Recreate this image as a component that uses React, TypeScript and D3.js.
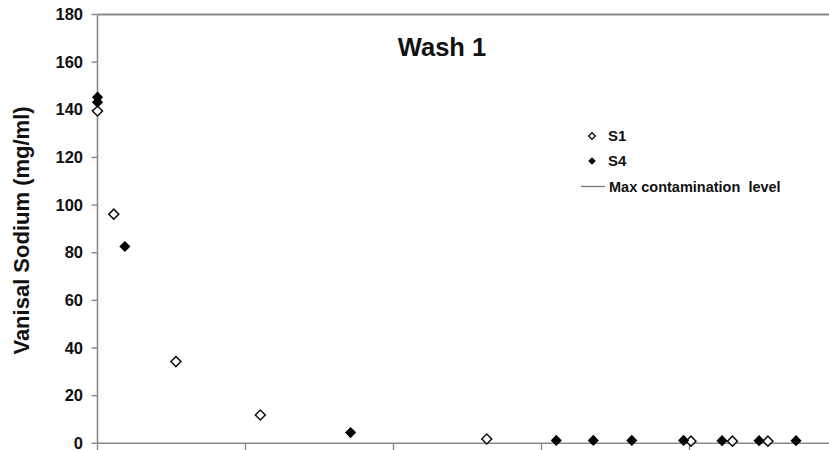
import React from "react";
import * as d3 from "d3";

const yTicks = [0, 20, 40, 60, 80, 100, 120, 140, 160, 180];
const xTicks = [0, 10, 20, 30, 40, 50];

const s1X = [0, 1.1, 5.3, 11.0, 26.3, 40.1, 42.9, 45.3];
const s1Y = [139.5, 96.2, 34.3, 11.9, 1.8, 0.9, 0.9, 0.9];

const s4X = [0, 0, 1.85, 17.1, 31.0, 33.5, 36.1, 39.6, 42.2, 44.7, 47.2];
const s4Y = [145.3, 143.2, 82.6, 4.5, 1.2, 1.2, 1.2, 1.2, 1.1, 1.1, 1.1];

const legendLabels = ["S1", "S4", "Max contamination  level"];

const FONT = "'Liberation Sans', Arial, Helvetica, sans-serif";
const AXIS = "#8a8a8a";

export default function App() {
  const x = d3.scaleLinear().domain([0, 50]).range([97.5, 837.5]);
  const y = d3.scaleLinear().domain([0, 180]).range([443.3, 14.5]);
  const diamondOpen = d3.symbol(d3.symbolSquare, 50)() as string;
  const diamondFilled = d3.symbol(d3.symbolSquare, 62)() as string;
  const legOpen = d3.symbol(d3.symbolSquare, 22)() as string;
  const legFilled = d3.symbol(d3.symbolSquare, 30)() as string;

  return (
    <svg
      width={829}
      height={450}
      style={{ position: "absolute", left: 0, top: 0, background: "#fff" }}
      fontFamily={FONT}
    >
      <rect width={829} height={450} fill="#fff" />
      {/* top border */}
      <line x1={x(0)} x2={829} y1={y(180)} y2={y(180)} stroke={AXIS} strokeWidth={2} />
      {/* y axis */}
      <line x1={x(0)} x2={x(0)} y1={y(180)} y2={y(0)} stroke={AXIS} strokeWidth={1.6} />
      {/* x axis */}
      <line x1={x(0)} x2={829} y1={y(0)} y2={y(0)} stroke={AXIS} strokeWidth={1.6} />
      {yTicks.map((t) => (
        <g key={"y" + t}>
          <line x1={x(0) - 6} x2={x(0)} y1={y(t)} y2={y(t)} stroke={AXIS} strokeWidth={1.4} />
          <text
            x={83}
            y={y(t) + 5.6}
            textAnchor="end"
            fontSize={16.5}
            fontWeight="bold"
            fill="#111"
          >
            {t}
          </text>
        </g>
      ))}
      {xTicks.map((t) => (
        <line key={"x" + t} x1={x(t)} x2={x(t)} y1={y(0)} y2={y(0) + 7} stroke={AXIS} strokeWidth={1.4} />
      ))}
      <text
        transform={`translate(28.5, 230.5) rotate(-90)`}
        textAnchor="middle"
        fontSize={22}
        fontWeight="bold"
        fill="#111"
      >
        Vanisal Sodium (mg/ml)
      </text>
      <text x={442} y={56} textAnchor="middle" fontSize={25.5} fontWeight="bold" fill="#111">
        Wash 1
      </text>
      {/* S1 open diamonds */}
      {s1X.map((v, i) => (
        <path
          key={"s1" + i}
          d={diamondOpen}
          transform={`translate(${x(v)},${y(s1Y[i])}) rotate(45)`}
          fill="#fff"
          stroke="#111"
          strokeWidth={1.5}
        />
      ))}
      {/* S4 filled diamonds */}
      {s4X.map((v, i) => (
        <path
          key={"s4" + i}
          d={diamondFilled}
          transform={`translate(${x(v)},${y(s4Y[i])}) rotate(45)`}
          fill="#000"
        />
      ))}
      {/* legend */}
      <path d={legOpen} transform="translate(592,136) rotate(45)" fill="#fff" stroke="#111" strokeWidth={1.4} />
      <text x={608} y={141} fontSize={15} fontWeight="bold" fill="#111">{legendLabels[0]}</text>
      <path d={legFilled} transform="translate(592,161) rotate(45)" fill="#000" />
      <text x={608} y={166} fontSize={15} fontWeight="bold" fill="#111">{legendLabels[1]}</text>
      <line x1={581} x2={605} y1={186.5} y2={186.5} stroke="#777" strokeWidth={1.3} />
      <text x={609} y={192} fontSize={14.5} fontWeight="bold" fill="#111" xmlSpace="preserve">
        {legendLabels[2]}
      </text>
    </svg>
  );
}
